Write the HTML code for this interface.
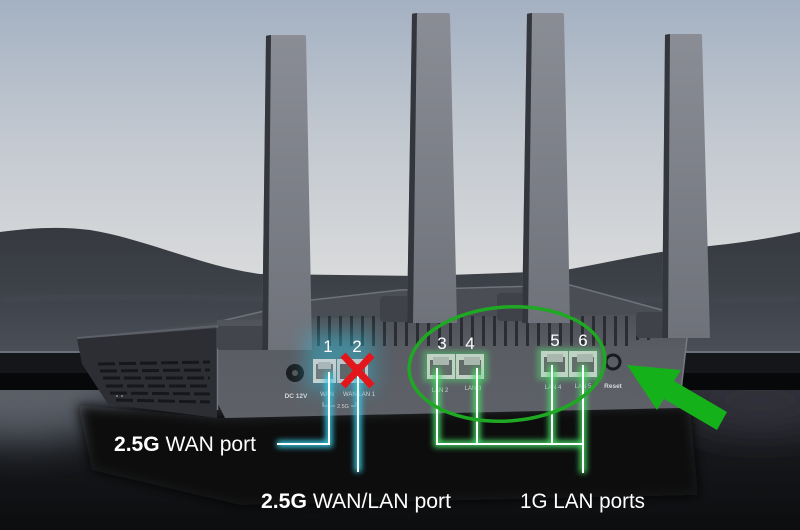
<!DOCTYPE html>
<html><head><meta charset="utf-8"><style>
html,body{margin:0;padding:0;background:#0f1012;}
svg{display:block}
</style></head><body>
<svg width="800" height="530" viewBox="0 0 800 530" xmlns="http://www.w3.org/2000/svg" font-family="'Liberation Sans', sans-serif">
<defs>
 <linearGradient id="sky" x1="0" y1="0" x2="0" y2="300" gradientUnits="userSpaceOnUse">
  <stop offset="0" stop-color="#a4b1c2"/>
  <stop offset="0.45" stop-color="#c2c8d0"/>
  <stop offset="1" stop-color="#dddddd"/>
 </linearGradient>
 <linearGradient id="hill" x1="0" y1="228" x2="0" y2="352" gradientUnits="userSpaceOnUse">
  <stop offset="0" stop-color="#36393f"/>
  <stop offset="0.6" stop-color="#3f434b"/>
  <stop offset="1" stop-color="#4a4e57"/>
 </linearGradient>
 <linearGradient id="ant" x1="0" y1="0" x2="0" y2="1">
  <stop offset="0" stop-color="#8a8d95"/>
  <stop offset="1" stop-color="#6f727a"/>
 </linearGradient>
 <linearGradient id="gnd" x1="0" y1="390" x2="0" y2="530" gradientUnits="userSpaceOnUse">
  <stop offset="0" stop-color="#272a30"/>
  <stop offset="0.45" stop-color="#15171a"/>
  <stop offset="1" stop-color="#0c0d0f"/>
 </linearGradient>
 <linearGradient id="face" x1="0" y1="312" x2="0" y2="418" gradientUnits="userSpaceOnUse">
  <stop offset="0" stop-color="#4d5057"/>
  <stop offset="0.35" stop-color="#5a5d64"/>
  <stop offset="1" stop-color="#5e6168"/>
 </linearGradient>
 <clipPath id="gclip"><rect x="0" y="390" width="800" height="140"/></clipPath>
 <filter id="b3" x="-50%" y="-50%" width="200%" height="200%"><feGaussianBlur stdDeviation="3"/></filter>
 <filter id="b6" x="-50%" y="-50%" width="200%" height="200%"><feGaussianBlur stdDeviation="6"/></filter>
 <filter id="b10" x="-50%" y="-50%" width="200%" height="200%"><feGaussianBlur stdDeviation="10"/></filter>
 <filter id="b20" x="-50%" y="-50%" width="200%" height="200%"><feGaussianBlur stdDeviation="20"/></filter>
</defs>

<!-- sky -->
<rect x="0" y="0" width="800" height="360" fill="url(#sky)"/>
<!-- hills -->
<path d="M0,232 C30,228 60,226 90,230 C150,240 200,266 260,274 L420,276 L560,271 C610,262 660,250 710,246 C750,242 780,236 800,232 L800,360 L0,360 Z" fill="url(#hill)"/>
<path d="M0,300 C150,290 300,305 450,300 C600,296 700,305 800,298" stroke="#4a4e56" stroke-width="6" fill="none" opacity=".5" filter="url(#b3)"/>
<!-- horizon line and black band -->
<rect x="0" y="351" width="800" height="2" fill="#6a717d"/>
<rect x="0" y="353" width="800" height="20" fill="#141619"/>
<rect x="0" y="373" width="800" height="17" fill="#07080a"/>
<!-- ground -->
<rect x="0" y="390" width="800" height="140" fill="url(#gnd)"/>
<g clip-path="url(#gclip)">
 <ellipse cx="20" cy="395" rx="110" ry="45" fill="#5a5f68" filter="url(#b20)"/>
 <ellipse cx="760" cy="400" rx="80" ry="30" fill="#30333a" filter="url(#b20)"/>
 <!-- router reflection -->
 <path d="M78,405 L220,418 L690,406 L698,495 L240,505 L92,470 Z" fill="#0b0c0e" filter="url(#b6)"/>
</g>

<!-- router top surface -->
<path d="M77,338 L217,322 L312,300 L400,290 L570,285 L662,310 L687,338 Z" fill="#4a4d54"/>
<path d="M217,322 L312,300 L400,290 L570,285 L662,310" stroke="#6e727a" stroke-width="1.5" fill="none"/>
<path d="M77,338 L217,326" stroke="#5c6068" stroke-width="2" fill="none"/>

<!-- left side body -->
<path d="M77,339 L217,328 L217,418 L108,404 L82,364 Z" fill="#2c2e33"/>
<g stroke="#16171a" stroke-width="3" stroke-dasharray="17 4" fill="none">
 <line x1="98" y1="364" x2="210" y2="362"/>
 <line x1="100" y1="371" x2="210" y2="370"/>
 <line x1="103" y1="378" x2="210" y2="378"/>
 <line x1="106" y1="386" x2="210" y2="386"/>
 <line x1="110" y1="393" x2="210" y2="394"/>
 <line x1="116" y1="400" x2="210" y2="402"/>
</g>
<circle cx="117" cy="396" r="1" fill="#888"/><circle cx="122" cy="396" r="1" fill="#888"/>

<!-- front face -->
<path d="M217,320 L687,314 L687,338 L679,408 L225,418 L217,402 Z" fill="url(#face)"/>
<line x1="217.5" y1="326" x2="217.5" y2="410" stroke="#72757c" stroke-width="1.5"/>
<path d="M687,338 L679,408" stroke="#777a81" stroke-width="1.5"/>
<!-- vents -->
<g fill="#2b2d32">
 <rect x="272" y="343" width="3" height="6"/><rect x="281" y="343" width="3" height="6"/><rect x="290" y="343" width="3" height="6"/>
 <rect x="306" y="316" width="3" height="30"/><rect x="317" y="316" width="3" height="30"/><rect x="328" y="316" width="3" height="30"/>
 <rect x="339" y="316" width="3" height="30"/><rect x="350" y="316" width="3" height="30"/><rect x="361" y="316" width="3" height="30"/>
 <rect x="372" y="316" width="3" height="30"/><rect x="383" y="316" width="3" height="30"/><rect x="394" y="316" width="3" height="30"/>
 <rect x="405" y="316" width="3" height="30"/><rect x="416" y="316" width="3" height="30"/><rect x="427" y="316" width="3" height="30"/>
 <rect x="438" y="316" width="3" height="30"/><rect x="449" y="316" width="3" height="30"/><rect x="460" y="316" width="3" height="30"/>
 <rect x="471" y="316" width="3" height="30"/><rect x="482" y="316" width="3" height="30"/><rect x="493" y="316" width="3" height="30"/>
 <rect x="504" y="316" width="3" height="30"/><rect x="515" y="316" width="3" height="30"/><rect x="526" y="316" width="3" height="30"/>
 <rect x="537" y="316" width="3" height="30"/><rect x="548" y="316" width="3" height="30"/><rect x="559" y="316" width="3" height="30"/>
 <rect x="570" y="316" width="3" height="30"/><rect x="581" y="316" width="3" height="30"/><rect x="592" y="316" width="3" height="30"/>
 <rect x="603" y="316" width="3" height="30"/><rect x="614" y="316" width="3" height="30"/><rect x="625" y="316" width="3" height="30"/>
 <rect x="636" y="316" width="3" height="24"/><rect x="647" y="316" width="3" height="24"/>
</g>

<!-- antenna hinges -->
<rect x="217" y="326" width="48" height="24" rx="3" fill="#42454c"/>
<rect x="380" y="296" width="34" height="26" rx="4" fill="#3f4249"/>
<rect x="497" y="293" width="32" height="28" rx="4" fill="#3f4249"/>
<rect x="636" y="312" width="28" height="26" rx="4" fill="#3f4249"/>

<!-- antennas -->
<path d="M266,36 Q266,35 268,35 L304,35 Q306,35 306,37 L312,350 L262,350 Z" fill="url(#ant)"/>
<path d="M266,36 L271,35 L268,350 L262,350 Z" fill="#34363d"/>
<path d="M412,14 Q412,13 414,13 L448,13 Q450,13 450,15 L457,323 L407,323 Z" fill="url(#ant)"/>
<path d="M412,14 L417,13 L413,323 L407,323 Z" fill="#34363d"/>
<path d="M527,14 Q527,13 529,13 L562,13 Q564,13 564,15 L570,323 L522,323 Z" fill="url(#ant)"/>
<path d="M527,14 L532,13 L528,323 L522,323 Z" fill="#34363d"/>
<path d="M665,35 Q665,34 667,34 L700,34 Q702,34 702,36 L710,338 L662,338 Z" fill="url(#ant)"/>
<path d="M665,35 L670,34 L668,338 L662,338 Z" fill="#34363d"/>

<!-- DC jack -->
<circle cx="295" cy="373" r="9" fill="#1b1c1f"/>
<circle cx="295" cy="373" r="3" fill="#555"/>
<text x="296" y="398" font-size="6.5" font-weight="bold" fill="#d5d7da" text-anchor="middle">DC 12V</text>

<!-- glows -->
<rect x="306" y="332" width="68" height="58" fill="#2fc0dc" opacity=".45" filter="url(#b10)"/>
<rect x="423" y="351" width="65" height="31" fill="#52d86f" opacity=".5" filter="url(#b3)"/>
<rect x="537" y="348" width="64" height="32" fill="#52d86f" opacity=".5" filter="url(#b3)"/>

<!-- ports -->
<g>
 <rect x="313" y="359" width="23" height="24" fill="#c3d0d2"/>
 <rect x="316" y="364" width="17" height="15" fill="#6f7a7c"/>
 <rect x="318" y="362" width="13" height="7" fill="#aab6b8"/>
 <rect x="337" y="359" width="31" height="24" fill="#b9c5c7"/>
 <rect x="340" y="364" width="25" height="15" fill="#5d6769"/>

 <rect x="427" y="354" width="28" height="25" fill="#bfd2c4"/>
 <rect x="430" y="360" width="22" height="15" fill="#626c68"/>
 <rect x="433" y="357" width="16" height="8" fill="#a9b7ae"/>
 <rect x="456" y="354" width="28" height="25" fill="#bfd2c4"/>
 <rect x="459" y="360" width="22" height="15" fill="#626c68"/>
 <rect x="464" y="357" width="16" height="8" fill="#a9b7ae"/>

 <rect x="541" y="351" width="27" height="26" fill="#bfd2c4"/>
 <rect x="544" y="357" width="21" height="15" fill="#626c68"/>
 <rect x="547" y="354" width="16" height="8" fill="#a9b7ae"/>
 <rect x="569" y="351" width="28" height="26" fill="#bfd2c4"/>
 <rect x="572" y="357" width="22" height="15" fill="#626c68"/>
 <rect x="577" y="354" width="16" height="8" fill="#a9b7ae"/>
</g>

<!-- reset -->
<circle cx="613" cy="362" r="7" fill="none" stroke="#1a1b1e" stroke-width="3"/>
<text x="613" y="388" font-size="6.5" font-weight="bold" fill="#d5d7da" text-anchor="middle">Reset</text>

<!-- port labels -->
<g font-size="6" fill="#cfd2d5" text-anchor="middle">
 <text x="327" y="396">WAN</text>
 <text x="359" y="396">WAN LAN 1</text>
 <text x="440" y="392">LAN 2</text>
 <text x="473" y="390">LAN 3</text>
 <text x="553" y="389">LAN 4</text>
 <text x="583" y="388">LAN 5</text>
 <text x="343" y="408" font-size="5.5">2.5G</text>
</g>
<path d="M323,402 L323,406 L335,406 M351,406 L356,406 L356,402" stroke="#cfd2d5" stroke-width=".8" fill="none"/>

<!-- numbers -->
<g font-size="17" fill="#ffffff" text-anchor="middle">
 <text x="328" y="352">1</text>
 <text x="357" y="352">2</text>
 <text x="442" y="349">3</text>
 <text x="470" y="349">4</text>
 <text x="555" y="346">5</text>
 <text x="583" y="346">6</text>
</g>

<!-- connector lines glow -->
<g stroke="#34c9e2" stroke-width="7" fill="none" filter="url(#b3)" opacity=".95">
 <path d="M329,372 L329,444 L277,444"/>
 <path d="M358,372 L358,472"/>
</g>
<g stroke="#44dd66" stroke-width="7" fill="none" filter="url(#b3)" opacity=".9">
 <path d="M437,368 L437,444 L583,444"/>
 <path d="M477,368 L477,444"/>
 <path d="M552,365 L552,444"/>
 <path d="M583,365 L583,473"/>
</g>
<g stroke="#ffffff" stroke-width="2" fill="none">
 <path d="M329,372 L329,444 L277,444"/>
 <path d="M358,372 L358,472"/>
 <path d="M437,368 L437,444 L583,444"/>
 <path d="M477,368 L477,444"/>
 <path d="M552,365 L552,444"/>
 <path d="M583,365 L583,473"/>
</g>

<!-- red X -->
<g stroke="#e3161b" stroke-width="7">
 <line x1="343" y1="355" x2="372" y2="386"/>
 <line x1="372" y1="355" x2="343" y2="386"/>
</g>

<!-- green ellipse -->
<ellipse cx="507" cy="364" rx="98" ry="57" fill="none" stroke="#1fa823" stroke-width="3.5" transform="rotate(-4 507 364)"/>

<!-- green arrow -->
<polygon points="627,365 681,370 674,381 727,412 717,430 664,399 657,410" fill="#15b11a"/>

<!-- labels -->
<text x="114" y="451" font-size="21" fill="#ffffff" textLength="142" lengthAdjust="spacingAndGlyphs"><tspan font-weight="bold">2.5G</tspan> WAN port</text>
<text x="261" y="508" font-size="21" fill="#ffffff" textLength="190" lengthAdjust="spacingAndGlyphs"><tspan font-weight="bold">2.5G</tspan> WAN/LAN port</text>
<text x="520" y="508" font-size="21" fill="#ffffff" textLength="125" lengthAdjust="spacingAndGlyphs">1G LAN ports</text>
</svg>
</body></html>
